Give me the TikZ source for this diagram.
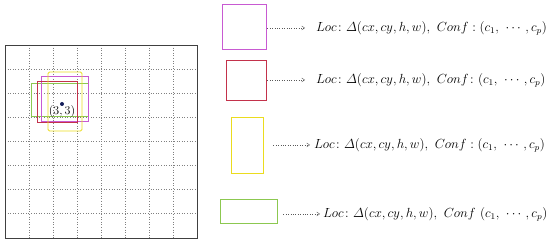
\documentclass[tikz,border=0pt]{standalone}
\usepackage{amsmath}
\usetikzlibrary{positioning,arrows.meta}
\definecolor{boxmagenta}{RGB}{200,90,210}
\definecolor{boxred}{RGB}{195,50,75}
\definecolor{boxyellow}{RGB}{235,220,30}
\definecolor{boxgreen}{RGB}{140,200,80}
\definecolor{dotnavy}{RGB}{20,30,90}
\newcommand{\predlabel}[1]{\scalebox{1.1}{$#1$}}
\tikzset{
  anchorbox/.style={draw, line width=0.9pt, inner sep=0pt},
  predtext/.style={anchor=west, inner sep=0pt, font=\fontsize{12}{14}\selectfont},
  predlink/.style={dotted, gray!70!black, -{Straight Barb[length=3pt,width=4pt]}}
}
\begin{document}
\begin{tikzpicture}[x=1pt,y=-1pt]
  \useasboundingbox (0,0) rectangle (550,243);
  % Grille 8x8
  \foreach \k in {1,...,7} {
    \draw[dotted, gray, line width=0.6pt] (5+24*\k,45) -- (5+24*\k,238);
    \draw[dotted, gray, line width=0.6pt] (5,45+24*\k) -- (197,45+24*\k);
  }
  \draw[line width=0.9pt, darkgray] (5,45) rectangle (197,238);
  % Boites dans la cellule (3,3)
  \draw[line width=0.9pt, boxgreen] (31,83) rectangle (88,116);
  \draw[line width=0.9pt, boxmagenta] (41,76) rectangle (88,121);
  \draw[line width=0.9pt, boxred] (37,81) rectangle (77,122);
  \draw[line width=0.9pt, boxyellow, rounded corners=1.5pt] (48,72) rectangle (82,131);
  \fill[dotnavy] (62,104) circle (2pt);
  \node[inner sep=0pt, font=\fontsize{12}{14}\selectfont] (cell) at (62,111.5) {(3,\,3)};
  % Boites de reference et predictions
  \node[anchorbox, draw=boxmagenta, minimum width=44pt, minimum height=45pt] (magbox) at (244,26.5) {};
  \node[anchorbox, draw=boxred, minimum width=40pt, minimum height=40pt] (redbox) at (246,80) {};
  \node[anchorbox, draw=boxyellow, minimum width=32pt, minimum height=56pt] (yelbox) at (247,145) {};
  \node[anchorbox, draw=boxgreen, minimum width=57pt, minimum height=24pt] (grnbox) at (248.5,211) {};
  \node[predtext] (magtxt) at (316,28) {\predlabel{Loc\colon \varDelta(cx,cy,h,w),\ Conf: (c_1,\ \cdots,c_p)}};
  \node[predtext] (redtxt) at (316,80) {\predlabel{Loc\colon \varDelta(cx,cy,h,w),\ Conf\colon (c_1,\ \cdots,c_p)}};
  \node[predtext] (yeltxt) at (314,145) {\predlabel{Loc\colon \varDelta(cx,cy,h,w),\ Conf: (c_1,\ \cdots,c_p)}};
  \node[predtext] (grntxt) at (323,214) {\predlabel{Loc\colon \varDelta(cx,cy,h,w),\ Conf\ (c_1,\ \cdots,c_p)}};
  \draw[predlink, shorten <=1pt, shorten >=11pt] (magbox.east |- magtxt) -- (magtxt.west);
  \draw[predlink, shorten <=1pt, shorten >=11pt] (redbox.east |- redtxt) -- (redtxt.west);
  \draw[predlink, shorten <=10pt, shorten >=4pt] (yelbox.east |- yeltxt) -- (yeltxt.west);
  \draw[predlink, shorten <=6pt, shorten >=3pt] (grnbox.east |- grntxt) -- (grntxt.west);
\end{tikzpicture}
\end{document}
